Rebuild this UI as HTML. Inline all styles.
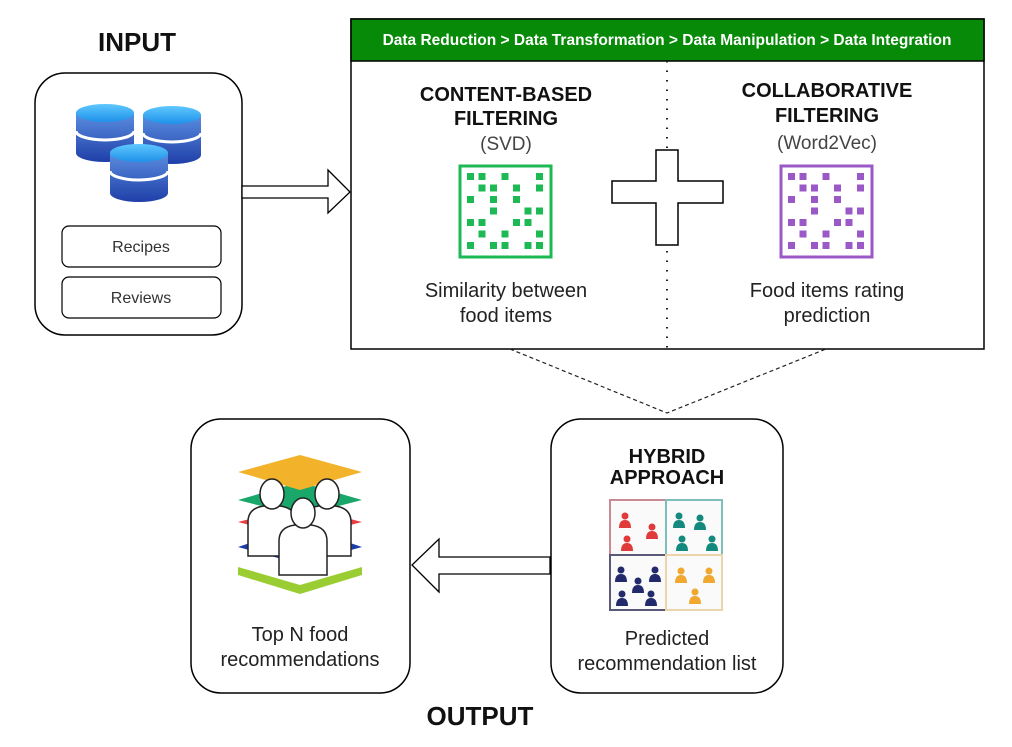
<!DOCTYPE html>
<html><head><meta charset="utf-8"><style>
html,body{margin:0;padding:0;background:#fff;}
svg{display:block;}
text{font-family:"Liberation Sans",Arial,sans-serif;}
</style></head><body>
<svg width="1012" height="747" viewBox="0 0 1012 747" xmlns="http://www.w3.org/2000/svg">
<defs>
<linearGradient id="cyl" x1="0" y1="0" x2="0" y2="1"><stop offset="0" stop-color="#5b8ee0"/><stop offset="1" stop-color="#1f3fa8"/></linearGradient>
<linearGradient id="top" x1="0" y1="0" x2="0" y2="1"><stop offset="0" stop-color="#5fc8ff"/><stop offset="1" stop-color="#1e90e8"/></linearGradient>
<g id="db">
<path d="M0 10 v40 a29 9 0 0 0 58 0 v-40 z" fill="url(#cyl)"/>
<path d="M0 28 a29 9 0 0 0 58 0" fill="none" stroke="#fff" stroke-width="3"/>
<ellipse cx="29" cy="10" rx="29" ry="9" fill="url(#top)"/>
</g>
<g id="person">
<path d="M-24 54 v-34 q0-14 16-16 h16 q16 2 16 16 v34 z" fill="#fff" stroke="#222" stroke-width="1.5"/>
<ellipse cx="0" cy="-8" rx="12" ry="15" fill="#fff" stroke="#222" stroke-width="1.5"/>
</g>
<g id="fig"><circle cx="0" cy="-6" r="3.5"/><path d="M-6 6 q0-8 6-8 q6 0 6 8 z"/></g>
<g id="pat">
<rect x="0" y="0" width="7" height="7"/><rect x="11.5" y="0" width="7" height="7"/><rect x="34.5" y="0" width="7" height="7"/><rect x="69" y="0" width="7" height="7"/>
<rect x="11.5" y="11.5" width="7" height="7"/><rect x="23" y="11.5" width="7" height="7"/><rect x="46" y="11.5" width="7" height="7"/><rect x="69" y="11.5" width="7" height="7"/>
<rect x="0" y="23" width="7" height="7"/><rect x="23" y="23" width="7" height="7"/><rect x="46" y="23" width="7" height="7"/>
<rect x="23" y="34.5" width="7" height="7"/><rect x="57.5" y="34.5" width="7" height="7"/><rect x="69" y="34.5" width="7" height="7"/>
<rect x="0" y="46" width="7" height="7"/><rect x="11.5" y="46" width="7" height="7"/><rect x="46" y="46" width="7" height="7"/><rect x="57.5" y="46" width="7" height="7"/>
<rect x="11.5" y="57.5" width="7" height="7"/><rect x="34.5" y="57.5" width="7" height="7"/><rect x="69" y="57.5" width="7" height="7"/>
<rect x="0" y="69" width="7" height="7"/><rect x="23" y="69" width="7" height="7"/><rect x="34.5" y="69" width="7" height="7"/><rect x="57.5" y="69" width="7" height="7"/><rect x="69" y="69" width="7" height="7"/>
</g>
</defs>

<!-- INPUT -->
<text x="137" y="51" font-size="26" font-weight="bold" text-anchor="middle" fill="#111">INPUT</text>
<rect x="35" y="73" width="207" height="262" rx="30" fill="#fff" stroke="#000" stroke-width="1.5"/>
<use href="#db" x="76" y="103"/>
<use href="#db" x="143" y="105"/>
<use href="#db" x="110" y="143"/>
<rect x="62" y="226" width="159" height="41" rx="7" fill="#fff" stroke="#000" stroke-width="1.2"/>
<text x="141" y="252" font-size="16" text-anchor="middle" fill="#333">Recipes</text>
<rect x="62" y="277" width="159" height="41" rx="7" fill="#fff" stroke="#000" stroke-width="1.2"/>
<text x="141" y="303" font-size="16" text-anchor="middle" fill="#333">Reviews</text>

<path d="M242 186 H328 V170 L350 192 L328 213 V198 H242 Z" fill="#fff" stroke="#000" stroke-width="1.3"/>

<rect x="351" y="19" width="633" height="330" fill="#fff" stroke="#000" stroke-width="1.5"/>
<rect x="351" y="19" width="633" height="42" fill="#078a07" stroke="#000" stroke-width="1.5"/>
<text x="667" y="45" font-size="15.5" font-weight="bold" text-anchor="middle" fill="#fff">Data Reduction &gt; Data Transformation &gt; Data Manipulation &gt; Data Integration</text>
<line x1="667" y1="61" x2="667" y2="349" stroke="#222" stroke-width="2" stroke-dasharray="1.5,8"/>

<text x="506" y="101" font-size="20" font-weight="bold" text-anchor="middle" fill="#111">CONTENT-BASED</text>
<text x="506" y="125" font-size="20" font-weight="bold" text-anchor="middle" fill="#111">FILTERING</text>
<text x="506" y="150" font-size="19" text-anchor="middle" fill="#444">(SVD)</text>
<text x="506" y="297" font-size="20" text-anchor="middle" fill="#222">Similarity between</text>
<text x="506" y="322" font-size="20" text-anchor="middle" fill="#222">food items</text>

<text x="827" y="97" font-size="20" font-weight="bold" text-anchor="middle" fill="#111">COLLABORATIVE</text>
<text x="827" y="122" font-size="20" font-weight="bold" text-anchor="middle" fill="#111">FILTERING</text>
<text x="827" y="149" font-size="19" text-anchor="middle" fill="#444">(Word2Vec)</text>
<text x="827" y="297" font-size="20" text-anchor="middle" fill="#222">Food items rating</text>
<text x="827" y="322" font-size="20" text-anchor="middle" fill="#222">prediction</text>

<rect x="460" y="166" width="91" height="91" fill="none" stroke="#1db954" stroke-width="3"/>
<use href="#pat" x="467" y="173" fill="#1db954"/>
<rect x="781" y="166" width="91" height="91" fill="none" stroke="#9b59c8" stroke-width="3"/>
<use href="#pat" x="788" y="173" fill="#9b59c8"/>

<path d="M656 150 H678 V181 H723 V203 H678 V245 H656 V203 H612 V181 H656 Z" fill="#fff" stroke="#000" stroke-width="1.5"/>

<path d="M510 349 L667 413 L826 349" fill="none" stroke="#222" stroke-width="1.2" stroke-dasharray="4,3"/>

<rect x="551" y="419" width="232" height="274" rx="30" fill="#fff" stroke="#000" stroke-width="1.5"/>
<text x="667" y="463" font-size="20" font-weight="bold" text-anchor="middle" fill="#111">HYBRID</text>
<text x="667" y="484" font-size="20" font-weight="bold" text-anchor="middle" fill="#111">APPROACH</text>
<rect x="610" y="500" width="56" height="55" fill="#fafafa" stroke="#c98a94" stroke-width="2"/>
<rect x="666" y="500" width="56" height="55" fill="#fafafa" stroke="#7fbfbb" stroke-width="2"/>
<rect x="610" y="555" width="56" height="55" fill="#fafafa" stroke="#5a5a78" stroke-width="2"/>
<rect x="666" y="555" width="56" height="55" fill="#fafafa" stroke="#ead6a8" stroke-width="2"/>
<g fill="#e03a3a"><use href="#fig" x="625" y="522"/><use href="#fig" x="652" y="533"/><use href="#fig" x="627" y="545"/></g>
<g fill="#14897e"><use href="#fig" x="679" y="522"/><use href="#fig" x="700" y="524"/><use href="#fig" x="682" y="545"/><use href="#fig" x="712" y="545"/></g>
<g fill="#232a6b"><use href="#fig" x="621" y="576"/><use href="#fig" x="655" y="576"/><use href="#fig" x="638" y="587"/><use href="#fig" x="622" y="600"/><use href="#fig" x="651" y="600"/></g>
<g fill="#f0a830"><use href="#fig" x="681" y="577"/><use href="#fig" x="709" y="577"/><use href="#fig" x="695" y="598"/></g>
<text x="667" y="645" font-size="20" text-anchor="middle" fill="#222">Predicted</text>
<text x="667" y="670" font-size="20" text-anchor="middle" fill="#222">recommendation list</text>

<path d="M550 557 H439 V539 L412 565 L439 592 V574 H550 Z" fill="#fff" stroke="#000" stroke-width="1.3"/>

<rect x="191" y="419" width="219" height="274" rx="30" fill="#fff" stroke="#000" stroke-width="1.5"/>
<polygon points="238,567 300,585 362,567 362,575 300,594 238,575" fill="#9acd32"/>
<polygon points="238,547 300,526 362,547 300,564" fill="#1a3ea8"/>
<polygon points="238,522 300,506 362,522 300,538" fill="#e84040"/>
<polygon points="238,500 300,482 362,500 300,516" fill="#1aa86a"/>
<polygon points="238,472 300,455 362,472 300,490" fill="#f2b32a"/>
<use href="#person" x="272" y="502"/>
<use href="#person" x="327" y="502"/>
<use href="#person" x="303" y="521"/>
<text x="300" y="641" font-size="20" text-anchor="middle" fill="#222">Top N food</text>
<text x="300" y="666" font-size="20" text-anchor="middle" fill="#222">recommendations</text>

<text x="480" y="725" font-size="26" font-weight="bold" text-anchor="middle" fill="#111">OUTPUT</text>
</svg>
</body></html>
